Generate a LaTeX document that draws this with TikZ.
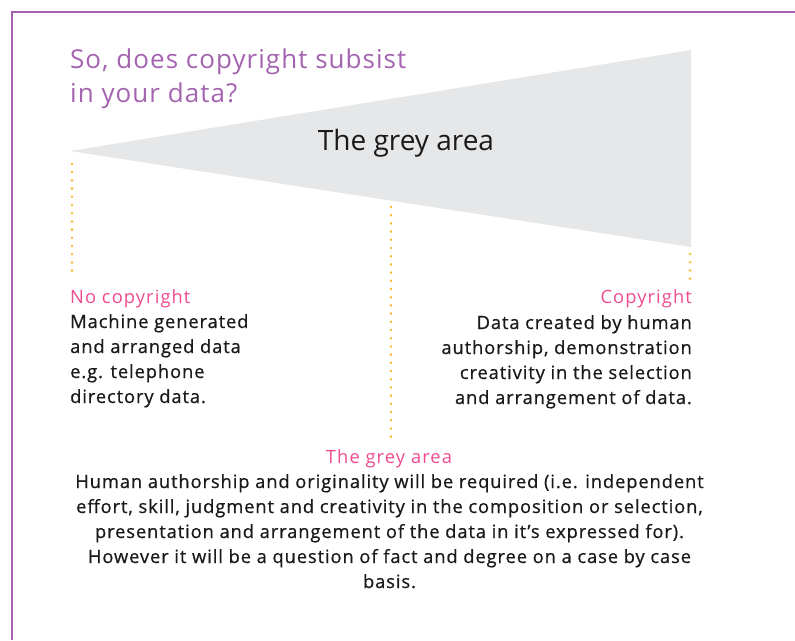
\documentclass[tikz,border=0pt]{standalone}
\usepackage{fontspec}
\setmainfont{Open Sans}
\newfontface\medfont{Open Sans}[FakeBold=0.7,LetterSpace=5]
\newfontface\labfont{Open Sans}[LetterSpace=6]
\newfontface\titlefont{Open Sans}[LetterSpace=4]
\definecolor{bordpurple}{HTML}{A660B0}
\definecolor{titlepurple}{HTML}{A463B0}
\definecolor{greyfill}{HTML}{E6E7E8}
\definecolor{pinklab}{HTML}{EE4A8F}
\definecolor{dotorange}{HTML}{F7B932}
\definecolor{bodyblack}{HTML}{1A1A1A}
\begin{document}
\begin{tikzpicture}[x=1pt,y=-1pt,
  frame/.style={draw=bordpurple,line width=2.5pt},
  dotline/.style={draw=dotorange,line width=2.8pt,line cap=round,dash pattern=on 0pt off 8.2pt},
  pinklabel/.style={text=pinklab,inner sep=0pt,font=\labfont\fontsize{18.3}{25}\selectfont},
  bodytext/.style={text=bodyblack,inner sep=0pt,font=\medfont\fontsize{18.3}{25}\selectfont},
  titletext/.style={text=titlepurple,inner sep=0pt,align=left,font=\titlefont\fontsize{26}{34}\selectfont}]
\useasboundingbox (0,0) rectangle (795,640);
% frame
\coordinate (ftl) at (12,12);
\coordinate (ftr) at (795,12);
\coordinate (fbl) at (12,640);
\draw[frame] (ftr) -- (ftl) -- (fbl);
% grey triangle
\coordinate (tip) at (70,151);
\coordinate (tr) at (691,50);
\coordinate (br) at (691,247);
\fill[greyfill] (tip) -- (tr) -- (br) -- cycle;
\node[inner sep=0pt,anchor=base,text=bodyblack,font=\fontsize{28}{34}\selectfont] (ga) at (406,150) {The grey area};
% title
\node[titletext,anchor=base west] (title) at (70,102) {So, does copyright subsist\\in your data?};
% dotted connectors
\coordinate (l1) at (72,164); \coordinate (l2) at (72,275);
\coordinate (m1) at (391,207); \coordinate (m2) at (391,438);
\coordinate (r1) at (690,254); \coordinate (r2) at (690,281);
\draw[dotline] (l1) -- (l2);
\draw[dotline] (m1) -- (m2);
\draw[dotline] (r1) -- (r2);
% left block
\node[pinklabel,anchor=base west] (nocopy) at (70,303) {No copyright};
\node[bodytext,anchor=base west,align=left] (nocopytext) at (70,403) {Machine generated\\and arranged data\\e.g. telephone\\directory data.};
% right block
\node[pinklabel,anchor=base east] (copy) at (692,303) {Copyright};
\node[bodytext,anchor=base east,align=right] (copytext) at (692,404) {Data created by human\\authorship, demonstration\\creativity in the selection\\and arrangement of data.};
% bottom block
\node[pinklabel,anchor=base] (grey) at (389,463) {The grey area};
\node[bodytext,anchor=base,align=center] (greytext) at (389.5,588) {Human authorship and originality will be required (i.e. independent\\effort, skill, judgment and creativity in the composition or selection,\\presentation and arrangement of the data in it’s expressed for).\\However it will be a question of fact and degree on a case by case\\basis.};
\end{tikzpicture}
\end{document}
